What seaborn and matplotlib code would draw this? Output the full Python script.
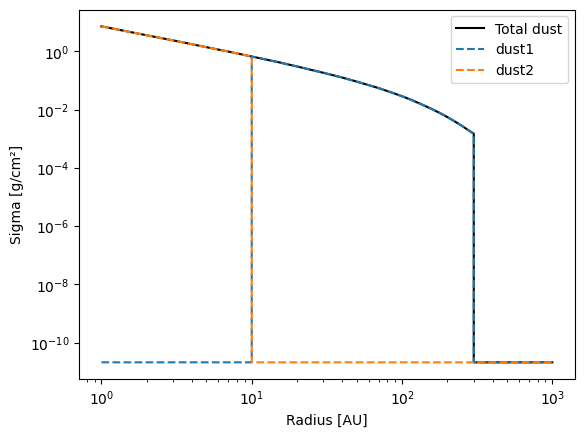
import seaborn as sns
import matplotlib
matplotlib.use("Agg")
import matplotlib.pyplot as plt

# radius grid [AU] and surface density
r_curve = [1, 2, 3, 5, 7, 10, 15, 20, 30, 40, 50, 70, 85, 100, 115, 130, 160,
           180, 200, 225, 250, 275, 300]
sigma_curve = [7.3, 3.6, 2.4, 1.4, 0.99, 0.67, 0.43, 0.305, 0.185, 0.127, 0.092,
               0.055, 0.039, 0.029, 0.0218, 0.0166, 0.0102, 0.0075, 0.0056,
               0.0039, 0.0028, 0.002, 0.0015]
sigma_floor = 2.1e-11
r_split = 10
r_out = 300
r_max = 1000

# dust2: inner disk, dust1: outer disk
n_in = r_curve.index(r_split) + 1
r_dust2 = r_curve[:n_in] + [r_split, r_max]
s_dust2 = sigma_curve[:n_in] + [sigma_floor, sigma_floor]
r_dust1 = [1, r_split] + r_curve[n_in - 1:] + [r_out, r_max]
s_dust1 = [sigma_floor, sigma_floor] + sigma_curve[n_in - 1:] + [sigma_floor, sigma_floor]
r_total = r_curve + [r_out, r_max]
s_total = sigma_curve + [sigma_floor, sigma_floor]

fig, ax = plt.subplots(figsize=(6.4, 4.8))
sns.lineplot(x=r_total, y=s_total, color="black", label="Total dust",
             estimator=None, sort=False, ax=ax)
sns.lineplot(x=r_dust1, y=s_dust1, color="tab:blue", linestyle="--", label="dust1",
             estimator=None, sort=False, ax=ax)
sns.lineplot(x=r_dust2, y=s_dust2, color="tab:orange", linestyle="--", label="dust2",
             estimator=None, sort=False, ax=ax)
ax.set_xscale("log")
ax.set_yscale("log")
ax.set_xlabel("Radius [AU]")
ax.set_ylabel("Sigma [g/cm²]")
ax.legend(loc="upper right")
plt.savefig("out.png", dpi=100, bbox_inches="tight")
